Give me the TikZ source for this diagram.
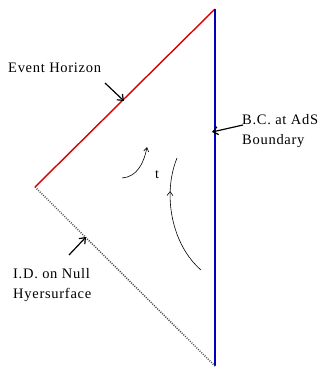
\documentclass[tikz,border=0pt]{standalone}
\usepackage{fontspec}
\setmainfont{Liberation Serif}[LetterSpace=5]
\usetikzlibrary{arrows.meta,decorations.markings}
\begin{document}
\begin{tikzpicture}[x=1pt,y=-1pt,
  lbl/.style={font=\fontsize{14.5}{20}\selectfont, inner sep=0pt, align=left},
  ptr/.style={line width=1.2pt, -{Straight Barb[length=5pt,width=8pt]}},
  flow/.style={line width=0.6pt, -{Straight Barb[length=4pt,width=5pt]}}]
\useasboundingbox (0,0) rectangle (321,370);
\coordinate (L) at (35,187);
\coordinate (T) at (215,9);
\coordinate (B) at (215,366);
\draw[red!85!black, line width=1.4pt] (L) -- (T);
\draw[blue!75!black, line width=2.4pt] (T) -- (B);
\draw[black!70, line width=1.5pt, dash pattern=on 1pt off 1.3pt] (L) -- (B);
\node[lbl, anchor=west] (eh) at (8,68) {Event Horizon};
\coordinate (ehtip) at (124,101);
\draw[ptr] (105,83) -- (ehtip);
\node[lbl, anchor=north west] (bc) at (242,114) {B.C. at AdS\\Boundary};
\coordinate (bctip) at (212,132);
\draw[ptr] (243,125) -- (bctip);
\node[lbl, anchor=north west] (id) at (13,268) {I.D. on Null\\Hyersurface};
\coordinate (idtip) at (86,237);
\draw[ptr] (69,255) -- (idtip);
\node[font=\fontsize{14}{15}\selectfont, inner sep=0pt] (t) at (157,175) {t};
\coordinate (a1s) at (122,178);
\coordinate (a1e) at (147,147);
\draw[flow] (a1s) .. controls (137,177) and (144,163) .. (a1e);
\coordinate (a2s) at (201,270);
\coordinate (a2e) at (177,158);
\draw[line width=0.6pt, postaction={decorate}, decoration={markings,
  mark=at position 0.72 with {\arrow{Straight Barb[length=4pt,width=6pt]}}}]
  (a2s) .. controls (172,245) and (162,195) .. (a2e);
\end{tikzpicture}
\end{document}
